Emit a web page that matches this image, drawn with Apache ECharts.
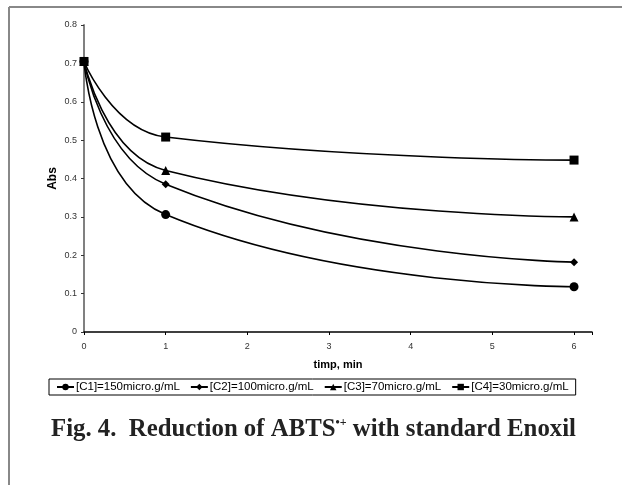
<!DOCTYPE html>
<html>
<head>
    <meta charset="utf-8">
    <title>ABTS reduction</title>
    <script src="https://cdn.jsdelivr.net/npm/echarts@6/dist/echarts.min.js"></script>
</head>
<body>
<style>
    html, body, #main {
        width: 622px;
        height: 485px;
        padding: 0;
        margin: 0;
        background: #fff;
    }
</style>
<div id="main"></div>
<script type="text/javascript">
    // time points (min)
    var times = [0, 1, 6];
    var names = ['[C1]=150micro.g/mL', '[C2]=100micro.g/mL', '[C3]=70micro.g/mL', '[C4]=30micro.g/mL'];
    var c1 = [0.705, 0.306, 0.118];
    var c2 = [0.705, 0.385, 0.182];
    var c3 = [0.705, 0.421, 0.300];
    var c4 = [0.705, 0.508, 0.448];
    var symbols = ['circle', 'diamond', 'triangle', 'rect'];
    var sizes = [9, 8, 9, 9];

    var myChart = echarts.init(document.getElementById('main'));

    function pairs(vals) {
        return times.map(function (t, i) { return [t, vals[i]]; });
    }

    var series = [c1, c2, c3, c4].map(function (vals, i) {
        return {
            name: names[i],
            type: 'line',
            data: pairs(vals),
            smooth: 0.5,
            symbol: symbols[i],
            symbolSize: sizes[i],
            showAllSymbol: true,
            itemStyle: {color: '#000'},
            lineStyle: {color: '#000', width: 1.6},
            emphasis: {disabled: true}
        };
    });

    myChart.setOption({
        animation: false,
        grid: {left: 84, top: 25, right: 30, bottom: 153},
        legend: {
            left: 49,
            top: 379,
            padding: [2, 7, 2, 7],
            itemGap: 10,
            itemWidth: 17,
            itemHeight: 8,
            borderColor: '#000',
            borderWidth: 1,
            textStyle: {fontFamily: 'Liberation Sans', fontSize: 11.5, color: '#000', padding: [0, 0, 0, -3]},
            data: names
        },
        xAxis: {
            type: 'value',
            min: 0,
            max: 6.22,
            interval: 1,
            name: 'timp, min',
            nameLocation: 'middle',
            nameGap: 27,
            nameMoveOverlap: false,
            nameTextStyle: {fontFamily: 'Liberation Sans', fontWeight: 'bold', fontSize: 11, color: '#000'},
            axisLine: {lineStyle: {color: '#000', width: 1.5}},
            axisTick: {length: 3, lineStyle: {color: '#000'}},
            axisLabel: {
                fontFamily: 'Liberation Sans', fontSize: 9, color: '#333', margin: 10,
                formatter: function (v) { return v % 1 === 0 ? String(v) : ''; }
            },
            splitLine: {show: false}
        },
        yAxis: {
            type: 'value',
            min: 0,
            max: 0.8,
            interval: 0.1,
            name: 'Abs',
            nameLocation: 'middle',
            nameGap: 25,
            nameMoveOverlap: false,
            nameTextStyle: {fontFamily: 'Liberation Sans', fontWeight: 'bold', fontSize: 12, color: '#000'},
            axisLine: {show: true, lineStyle: {color: '#808080', width: 2}},
            axisTick: {show: true, length: 3, lineStyle: {color: '#333'}},
            axisLabel: {fontFamily: 'Liberation Sans', fontSize: 9, color: '#333', margin: 7},
            splitLine: {show: false}
        },
        graphic: [
            {type: 'line', shape: {x1: 9, y1: 7, x2: 622, y2: 7}, style: {stroke: '#888', lineWidth: 2}},
            {type: 'line', shape: {x1: 9, y1: 7, x2: 9, y2: 485}, style: {stroke: '#888', lineWidth: 2}},
            {
                type: 'text',
                left: 51,
                top: 417,
                style: {
                    text: '{b|Fig. 4.  Reduction of ABTS}{s|•+}{b| with standard Enoxil}',
                    rich: {
                        b: {fontFamily: 'Liberation Serif', fontWeight: 'bold', fontSize: 24.8, fill: '#222'},
                        s: {fontFamily: 'Liberation Serif', fontWeight: 'bold', fontSize: 12, fill: '#222', verticalAlign: 'top', padding: [0, 0, 12, 0]}
                    }
                }
            }
        ],
        series: series
    });
</script>
</body>
</html>
